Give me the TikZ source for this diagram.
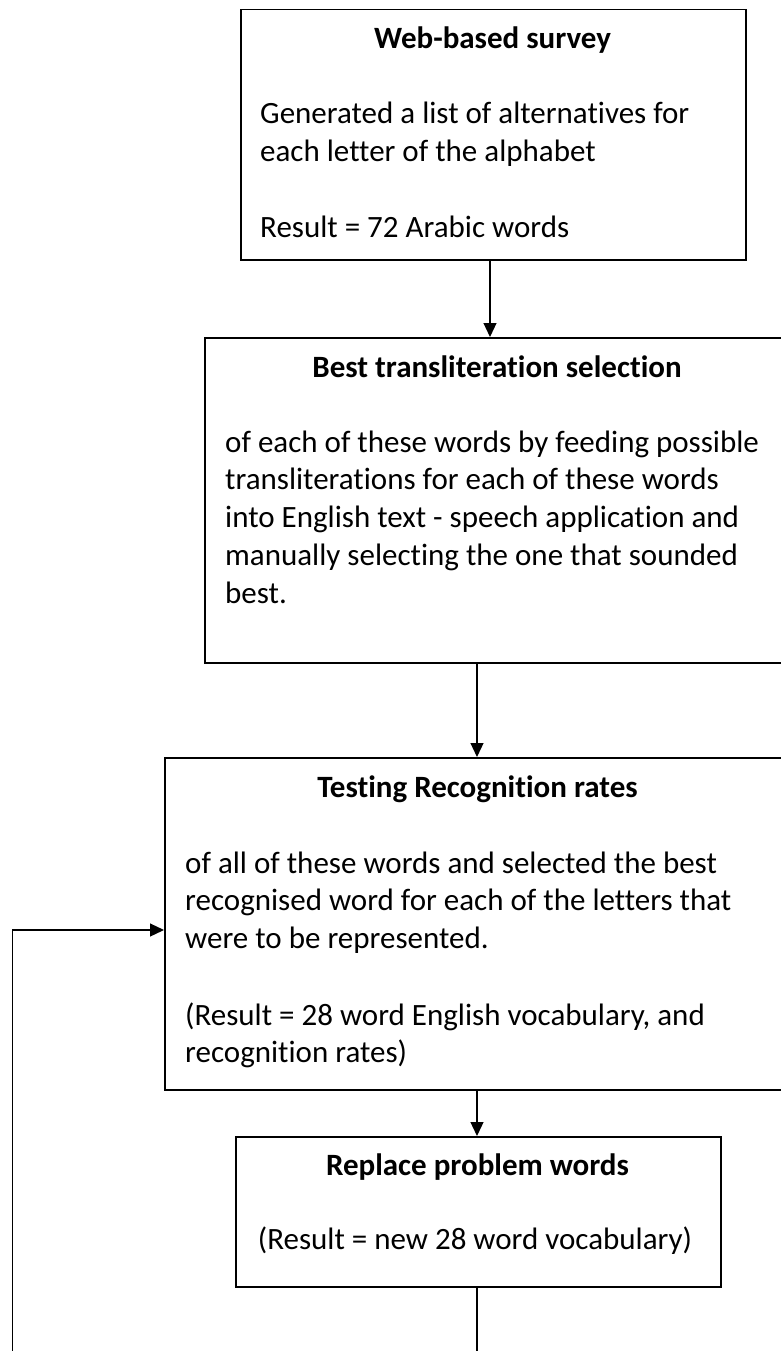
\documentclass[tikz,border=0pt]{standalone}
\usepackage{fontspec}
\setmainfont{Carlito}[Ligatures={TeX,NoCommon}]
\usetikzlibrary{arrows.meta}
\begin{document}
\begin{tikzpicture}[x=1pt,y=-1pt,
  every node/.style={font=\fontsize{31}{37.8}\selectfont, inner sep=0pt},
  stage/.style={draw=black, line width=1.5pt, rectangle, anchor=north west},
  head/.style={font=\fontsize{31}{37.8}\selectfont\bfseries, anchor=base},
  body/.style={anchor=base west, text width=570pt, align=left,
    execute at begin node={\spaceskip=0pt\xspaceskip=0pt\relax}},
  link/.style={draw=black, line width=1.2pt},
  flow/.style={link, -{Triangle[length=14pt,width=13pt]}}]
  % page frame
  \clip (0,0) rectangle (781,1351);
  \fill[white] (0,0) rectangle (781,1351);

  % stage boxes (boxes 2 and 3 run past the right page edge)
  \node[stage, minimum width=505pt, minimum height=250pt] (b1) at (240,9) {};
  \node[stage, minimum width=586pt, minimum height=325pt] (b2) at (204,337) {};
  \node[stage, minimum width=627pt, minimum height=332pt] (b3) at (164,757) {};
  \node[stage, minimum width=485pt, minimum height=150pt] (b4) at (235,1136) {};

  % texts of box 1
  \node[head] (t1) at (492.5,48.5) {Web-based survey};
  \node[body] (p1a) at (260,124) {Generated a list of alternatives for\\each letter of the alphabet};
  \node[body] (p1b) at (260,237) {Result = 72 Arabic words};

  % texts of box 2
  \node[head] (t2) at (497,377) {Best transliteration selection};
  \node[body] (p2a) at (225,452) {of each of these words by feeding possible\\transliterations for each of these words\\into English text - speech application and\\manually selecting the one that sounded\\best.};

  % texts of box 3
  \node[head] (t3) at (477.5,797) {Testing Recognition rates};
  \node[body] (p3a) at (185,873) {of all of these words and selected the best\\recognised word for each of the letters that\\were to be represented.};
  \node[body] (p3b) at (185,1025) {(Result = 28 word English vocabulary, and\\recognition rates)};

  % texts of box 4
  \node[head] (t4) at (477.5,1175) {Replace problem words};
  \node[anchor=base] (p4a) at (475,1249) {(Result = new 28 word vocabulary)};

  % connector columns and loose ends
  \coordinate (colA) at (490,0);
  \coordinate (colB) at (477,0);
  \coordinate (tail) at (477,1360);
  \coordinate (loopfoot) at (12.5,1360);
  \coordinate (entry) at (0,930);

  % connectors
  \draw[flow] (b1.south -| colA) -- (b2.north -| colA);
  \draw[flow] (b2.south -| colB) -- (b3.north -| colB);
  \draw[flow] (b3.south -| colB) -- (b4.north -| colB);
  \draw[link] (b4.south -| tail) -- (tail);
  \draw[flow] (loopfoot) |- (b3.west |- entry);
\end{tikzpicture}
\end{document}
